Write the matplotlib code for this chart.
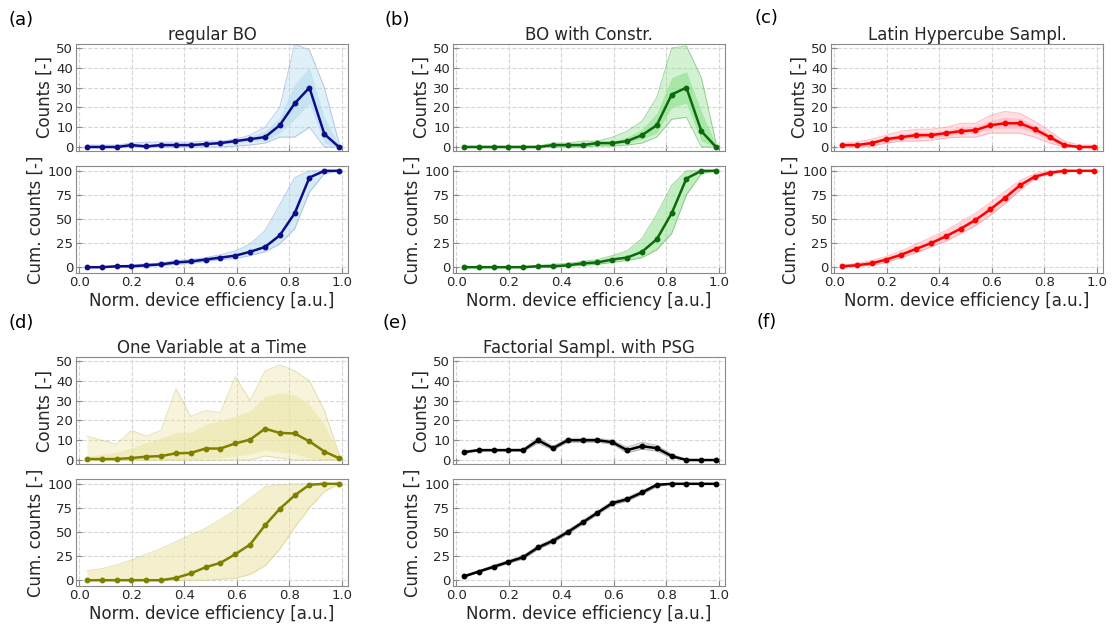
import matplotlib.pyplot as plt

# bin centres of normalised device efficiency
eff = [0.030, 0.086, 0.143, 0.199, 0.256, 0.312, 0.369, 0.425, 0.482,
       0.538, 0.595, 0.651, 0.708, 0.764, 0.821, 0.877, 0.934, 0.990]

titles = ['regular BO', 'BO with Constr.', 'Latin Hypercube Sampl.',
          'One Variable at a Time', 'Factorial Sampl. with PSG']
letters = ['(a)', '(b)', '(c)', '(d)', '(e)', '(f)']

# ---- (a) regular BO ----
a_cnt = [0, 0, 0, 1, 0.3, 1, 1, 1, 1.5, 2, 3, 4, 5, 11, 22, 30, 6.5, 0]
a_cnt_hi = [1, 1, 1, 2, 2.5, 2.5, 2.5, 2.5, 3, 3, 4, 6, 10, 20, 52, 49, 30, 2]
a_cnt_lo = [0, 0, 0, 0, 0, 0, 0, 0, 0, 0, 0.5, 1, 2, 5, 5, 10, 0, 0]
a_cnt_ihi = [0.5, 0.5, 0.5, 1.5, 1.5, 1.5, 1.5, 1.5, 2, 2.5, 4, 5.5, 8, 15, 32, 40, 15, 1]
a_cnt_ilo = [0, 0, 0, 0.5, 0, 0.5, 0.5, 0.5, 1, 1.5, 2, 3, 3, 7, 14, 22, 2, 0]
a_cum = [0, 0, 1, 1, 2, 3, 5, 6, 8, 10, 12, 16, 21, 33, 56, 93, 100, 100]
a_cum_hi = [0.5, 0.5, 1.5, 2.5, 3.5, 4.5, 7, 8, 10, 13, 17, 24, 38, 65, 93, 100, 100, 100]
a_cum_lo = [0, 0, 0, 0, 1, 1.5, 3, 4, 6, 8, 9, 12, 16, 24, 40, 78, 97, 100]

# ---- (b) BO with constraints ----
b_cnt = [0, 0, 0, 0, 0, 0, 1, 1, 1, 2, 2, 3, 6, 11, 26.5, 30, 8, 0]
b_cnt_hi = [0.5, 0.5, 0.5, 0.5, 0.5, 0.5, 2, 2, 3, 3, 5, 8, 13, 25, 50, 51, 35, 2]
b_cnt_lo = [0, 0, 0, 0, 0, 0, 0, 0, 0, 0.5, 0.5, 1, 2, 5, 14, 15, 0, 0]
b_cnt_ihi = [0.3, 0.3, 0.3, 0.3, 0.3, 0.3, 1.5, 1.5, 2, 3, 3, 5, 9, 17, 35, 38, 18, 1]
b_cnt_ilo = [0, 0, 0, 0, 0, 0, 0.5, 0.5, 0.5, 1, 1, 2, 4, 7, 20, 22, 3, 0]
b_cum = [0, 0, 0, 0, 0, 1, 1, 2, 4, 5, 8, 10, 16, 29, 56, 92, 100, 100]
b_cum_hi = [0.5, 0.5, 0.5, 0.5, 1, 2, 3, 4, 6, 8, 12, 17, 30, 55, 85, 100, 100, 100]
b_cum_lo = [0, 0, 0, 0, 0, 0, 0, 1, 2, 3, 5, 7, 10, 18, 35, 75, 97, 100]

# ---- (c) Latin hypercube ----
c_cnt = [1, 1, 2, 4, 5, 6, 6, 7, 8, 8.5, 11, 12, 12, 9, 5, 1, 0, 0]
c_cnt_hi = [2, 2.5, 4, 6, 8, 9, 9, 10, 12, 12, 16, 18, 17, 13, 8, 3, 1, 1]
c_cnt_lo = [0, 0, 0.5, 2, 3, 3, 3.5, 4.5, 5, 5, 7, 7, 7, 5, 2, 0, 0, 0]
c_cnt_ihi = [1.5, 1.8, 3, 5, 6.5, 7.5, 7.5, 8.5, 10, 10.5, 13.5, 15, 14.5, 11, 6.5, 2, 0.5, 0.5]
c_cnt_ilo = [0.5, 0.5, 1.2, 3, 4, 4.5, 4.8, 5.8, 6.5, 7, 9, 9.5, 9.5, 7, 3.5, 0.3, 0, 0]
c_cum = [1, 2, 4, 8, 13, 19, 25, 32, 40, 49, 60, 72, 85, 94, 98, 100, 100, 100]
c_cum_hi = [2, 4, 7, 11, 17, 24, 31, 38, 47, 56, 67, 79, 90, 97, 100, 100, 100, 100]
c_cum_lo = [0, 1, 2, 5, 10, 15, 21, 27, 35, 43, 54, 66, 80, 92, 97, 99, 100, 100]

# ---- (d) one variable at a time ----
d_cnt = [0.5, 0.5, 0.5, 1, 1.7, 2, 3.4, 3.6, 5.8, 5.8, 8.4, 10.3, 15.8, 13.7, 13.4, 9.4, 4.3, 0.9]
d_cnt_hi = [12, 10, 8, 15, 12, 15, 36, 22, 25, 24, 42, 30, 45, 48, 45, 40, 25, 3]
d_cnt_lo = [0, 0, 0, 0, 0, 0, 0, 0, 0, 0, 0, 0, 2, 1, 0, 0, 0, 0]
d_cnt_ihi = [2, 3, 4, 6, 9, 11, 14, 14, 18, 20, 22, 25, 32, 34, 33, 28, 18, 3]
d_cnt_ilo = [0, 0, 0, 0, 0, 0, 0.5, 0.5, 1, 1, 2, 3, 5, 4, 3, 1, 0, 0]
d_cum = [0, 0, 0, 0, 0, 0, 2.4, 7, 13.5, 18, 27, 37, 57, 74, 88, 99, 100, 100]
d_cum_hi = [10, 12, 16, 21, 27, 33, 40, 47, 54, 63, 73, 85, 97, 99, 100, 100, 100, 100]
d_cum_lo = [0, 0, 0, 0, 0, 0, 0, 0, 0, 1, 2, 6, 15, 32, 55, 75, 92, 100]

# ---- (e) factorial sampling with PSG ----
e_cnt = [4, 5, 5, 5, 5, 10, 6, 10, 10, 10, 9, 5, 7, 6, 2, 0, 0, 0]
e_cnt_hi = [4.6, 5.4, 5.4, 5.4, 5.6, 11.5, 7, 11, 11, 11, 10, 6.5, 9, 7.5, 3, 0.4, 0.2, 0.2]
e_cnt_lo = [3.4, 4.6, 4.6, 4.6, 4.4, 8.5, 5, 9, 9, 9, 8, 3.5, 5.5, 4.5, 1, 0, 0, 0]
e_cum = [4, 9, 14, 19, 24, 34, 41, 50, 60, 70, 80, 84, 91, 99, 100, 100, 100, 100]
e_cum_hi = [4.8, 10, 15.5, 20.5, 26, 36, 43, 52, 62, 72, 82, 86, 93, 100, 100, 100, 100, 100]
e_cum_lo = [3.2, 8, 12.5, 17.5, 22, 32, 39, 48, 58, 68, 78, 82, 89, 97, 100, 100, 100, 100]

panels = [
    dict(cnt=a_cnt, hi=a_cnt_hi, lo=a_cnt_lo, ihi=a_cnt_ihi, ilo=a_cnt_ilo,
         cum=a_cum, chi=a_cum_hi, clo=a_cum_lo,
         main='#0d0d8a', band='#b3dbee', edge='#6f8fd6'),
    dict(cnt=b_cnt, hi=b_cnt_hi, lo=b_cnt_lo, ihi=b_cnt_ihi, ilo=b_cnt_ilo,
         cum=b_cum, chi=b_cum_hi, clo=b_cum_lo,
         main='#0b6b0b', band='#8fe08f', edge='#3aa03a'),
    dict(cnt=c_cnt, hi=c_cnt_hi, lo=c_cnt_lo, ihi=c_cnt_ihi, ilo=c_cnt_ilo,
         cum=c_cum, chi=c_cum_hi, clo=c_cum_lo,
         main='#ff0000', band='#ffb0b8', edge='#ff7080'),
    dict(cnt=d_cnt, hi=d_cnt_hi, lo=d_cnt_lo, ihi=d_cnt_ihi, ilo=d_cnt_ilo,
         cum=d_cum, chi=d_cum_hi, clo=d_cum_lo,
         main='#808000', band='#ece5a6', edge='#c8bf60'),
    dict(cnt=e_cnt, hi=e_cnt_hi, lo=e_cnt_lo, ihi=None, ilo=None,
         cum=e_cum, chi=e_cum_hi, clo=e_cum_lo,
         main='#000000', band='#a0a0a0', edge='#808080'),
]

W, H = 1115, 626
fig = plt.figure(figsize=(W / 100, H / 100), dpi=100)


def add_ax(left, top, w, h):
    return fig.add_axes([left / W, 1 - (top + h) / H, w / W, h / H])


def style(ax):
    ax.grid(True, ls='--', color='#d6d6d6', lw=0.8)
    ax.set_axisbelow(True)
    for s in ax.spines.values():
        s.set_color('#8a8a8a')
    ax.tick_params(direction='in', length=4, color='#8a8a8a',
                   labelsize=9.5, labelcolor='#262626', pad=2)
    ax.set_xlim(-0.012, 1.024)
    ax.set_xticks([0, 0.2, 0.4, 0.6, 0.8, 1.0])


lefts = [76, 453, 831]
row_off = [0, 313]

for i, p in enumerate(panels):
    col, row = i % 3, i // 3
    x0, y0 = lefts[col], 44 + row_off[row]
    ax1 = add_ax(x0, y0, 272, 107)
    ax2 = add_ax(x0, y0 + 122, 272, 107)

    # counts
    ax1.fill_between(eff, p['lo'], p['hi'], color=p['band'], alpha=0.4, lw=0)
    ax1.plot(eff, p['hi'], color=p['edge'], lw=0.7, alpha=0.45)
    ax1.plot(eff, p['lo'], color=p['edge'], lw=0.7, alpha=0.45)
    if p['ihi'] is not None:
        ax1.fill_between(eff, p['ilo'], p['ihi'], color=p['band'], alpha=0.6, lw=0)
    ax1.plot(eff, p['cnt'], color=p['main'], lw=1.8, marker='o', ms=3.2)
    style(ax1)
    ax1.set_ylim(-2, 52)
    ax1.set_yticks([0, 10, 20, 30, 40, 50])
    ax1.tick_params(labelbottom=False)
    ax1.set_ylabel('Counts [-]', fontsize=12, color='#262626', labelpad=2)
    ax1.set_title(titles[i], fontsize=12, color='#262626', pad=3)

    # cumulative counts
    ax2.fill_between(eff, p['clo'], p['chi'], color=p['band'], alpha=0.55, lw=0)
    ax2.plot(eff, p['chi'], color=p['edge'], lw=0.7, alpha=0.45)
    ax2.plot(eff, p['clo'], color=p['edge'], lw=0.7, alpha=0.45)
    ax2.plot(eff, p['cum'], color=p['main'], lw=1.8, marker='o', ms=3.2)
    style(ax2)
    ax2.set_ylim(-6, 105)
    ax2.set_yticks([0, 25, 50, 75, 100])
    ax2.set_ylabel('Cum. counts [-]', fontsize=12, color='#262626', labelpad=2)
    ax2.set_xlabel('Norm. device efficiency [a.u.]', fontsize=12,
                   color='#262626', labelpad=2)

label_pos = [(8, 20), (385, 20), (755, 18), (8, 323), (383, 323), (757, 322)]
for lab, (lx, ly) in zip(letters, label_pos):
    fig.text(lx / W, 1 - ly / H, lab, fontsize=13, va='center', ha='left')

fig.savefig('out.png', dpi=100)
